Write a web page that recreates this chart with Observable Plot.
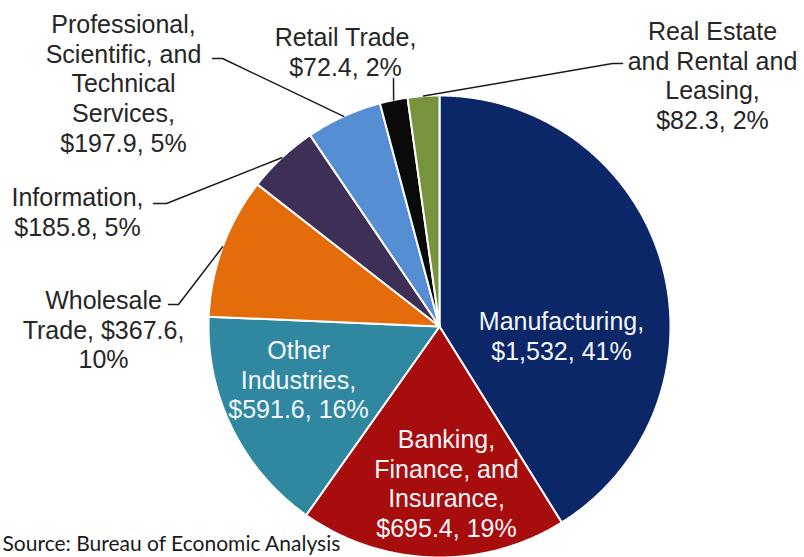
<!DOCTYPE html>
<html>
<head>
<meta charset="utf-8">
<script src="https://cdn.jsdelivr.net/npm/d3@7"></script>
<script src="https://cdn.jsdelivr.net/npm/@observablehq/plot@0.6"></script>
<style>
  html, body { margin: 0; padding: 0; background: #fff; }
  #chart { width: 804px; height: 557px; overflow: hidden; }
  svg { display: block; }
</style>
</head>
<body>
<div id="chart"></div>
<script>
// ---------- data ----------
const categories = [
  "Manufacturing",
  "Banking, Finance, and Insurance",
  "Other Industries",
  "Wholesale Trade",
  "Information",
  "Professional, Scientific, and Technical Services",
  "Retail Trade",
  "Real Estate and Rental and Leasing"
];
const values = [1532, 695.4, 591.6, 367.6, 185.8, 197.9, 72.4, 82.3];
// label name text with its line breaks
const labelNames = [
  "Manufacturing,",
  "Banking,\nFinance, and\nInsurance,",
  "Other\nIndustries,",
  "Wholesale\nTrade,",
  "Information,",
  "Professional,\nScientific, and\nTechnical\nServices,",
  "Retail Trade,",
  "Real Estate\nand Rental and\nLeasing,"
];
const valueSep = ["\n", "\n", "\n", " ", "\n", "\n", "\n", "\n"];
const pctSep = [", ", ", ", ", ", ",\n", ", ", ", ", ", ", ", "];
const caption = "Source: Bureau of Economic Analysis";

// ---------- styles / layout ----------
const colors = ["#0c2768", "#a80d0d", "#2f88a0", "#e46c0a", "#3e2f56", "#568ed4", "#0a0a0a", "#77933c"];
const inside = [true, true, true, false, false, false, false, false];
const W = 804, H = 557;
const cx = 439, cy = 326, R = 231;
const fontSize = 25, lineH = 1.19;
// label centre x and first-line baseline y
const labelPos = [
  [561, 326], [446, 444], [298, 355], [103, 305],
  [77, 202], [123, 29], [345, 42], [712, 36]
];
// leader lines: label end point and elbow point (null = no leader)
const leaderPts = [
  null, null, null,
  [[168, 304], [178, 304]],
  [[153, 203], [166, 203]],
  [[212, 58], [222, 58]],
  [[393, 78], [393, 78]],
  [[622, 63], [612, 63]]
];

// ---------- derived ----------
const total = d3.sum(values);
const fmtVal = v => "$" + (v >= 1000 ? d3.format(",.0f")(v) : d3.format(".1f")(v));
const arcs = d3.pie().sort(null).value(d => d)(values);

const polyPts = [];
arcs.forEach((a, i) => {
  const n = Math.max(2, Math.ceil((a.endAngle - a.startAngle) / (Math.PI / 360)));
  polyPts.push({cat: categories[i], x: cx, y: cy});
  for (let k = 0; k <= n; k++) {
    const t = a.startAngle + (a.endAngle - a.startAngle) * k / n;
    polyPts.push({cat: categories[i], x: cx + R * Math.sin(t), y: cy - R * Math.cos(t)});
  }
  polyPts.push({cat: categories[i], x: cx, y: cy});
});

const labels = categories.map((c, i) => {
  const pct = Math.round(values[i] / total * 100);
  return {
    cat: c,
    text: labelNames[i] + valueSep[i] + fmtVal(values[i]) + pctSep[i] + pct + "%",
    x: labelPos[i][0],
    y: labelPos[i][1] - 0.71 * fontSize,
    inside: inside[i]
  };
});

const leaders = [];
arcs.forEach((a, i) => {
  if (!leaderPts[i]) return;
  const mid = (a.startAngle + a.endAngle) / 2;
  const edge = {x: cx + R * Math.sin(mid), y: cy - R * Math.cos(mid)};
  leaderPts[i].forEach(p => leaders.push({cat: categories[i], x: p[0], y: p[1]}));
  leaders.push({cat: categories[i], ...edge});
});

const chart = Plot.plot({
  width: W,
  height: H,
  margin: 0,
  x: {domain: [0, W], range: [0, W], axis: null},
  y: {domain: [0, H], range: [0, H], axis: null},
  color: {domain: categories, range: colors},
  style: {fontFamily: "'Liberation Sans', Arial, sans-serif", background: "#fff"},
  marks: [
    Plot.line(polyPts, {x: "x", y: "y", z: "cat", fill: "cat", stroke: "#ffffff", strokeWidth: 2, strokeLinejoin: "round", curve: "linear"}),
    Plot.line(leaders, {x: "x", y: "y", z: "cat", stroke: "#1a1a1a", strokeWidth: 1.5, curve: "linear"}),
    Plot.text(labels.filter(d => !d.inside), {x: "x", y: "y", text: "text", lineAnchor: "top", textAnchor: "middle", lineHeight: lineH, fontSize: fontSize, fill: "#262626"}),
    Plot.text(labels.filter(d => d.inside), {x: "x", y: "y", text: "text", lineAnchor: "top", textAnchor: "middle", lineHeight: lineH, fontSize: fontSize, fill: "#f4f6fb"}),
    Plot.text([caption], {x: () => 2, y: () => 550, text: d => d, textAnchor: "start", lineAnchor: "bottom", fontSize: 21, fontFamily: "Lato, 'Open Sans', sans-serif", fill: "#1a1a1a"})
  ]
});
document.getElementById("chart").appendChild(chart);
</script>
</body>
</html>
